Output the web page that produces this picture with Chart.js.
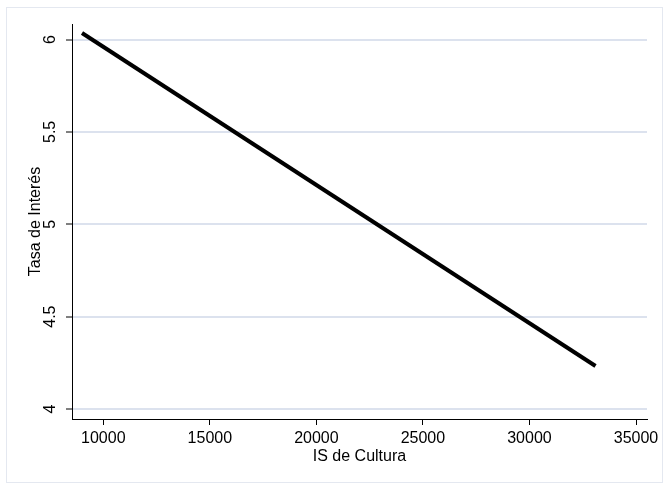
<!DOCTYPE html>
<html>
<head>
<meta charset="utf-8">
<script src="https://cdn.jsdelivr.net/npm/chart.js@4/dist/chart.umd.min.js"></script>
<style>
  html, body { margin: 0; padding: 0; background: #ffffff; }
  canvas { display: block; }
</style>
</head>
<body>
<canvas id="c" width="670" height="491"></canvas>
<script>
// Data
const isX = [9000, 33100];          // IS de Cultura (endpoints of the line)
const rateY = [6.035, 4.233];       // Tasa de Interés
const xTicks = [10000, 15000, 20000, 25000, 30000, 35000];
const yTicks = [4, 4.5, 5, 5.5, 6];
const xTitle = 'IS de Cultura';
const yTitle = 'Tasa de Interés';

const points = isX.map((x, i) => ({ x: x, y: rateY[i] }));

const FONT = { family: '"Liberation Sans", Arial, sans-serif', size: 16 };

const framePlugin = {
  id: 'frame',
  beforeDraw(chart) {
    const ctx = chart.ctx;
    ctx.save();
    ctx.fillStyle = '#ffffff';
    ctx.fillRect(0, 0, chart.width, chart.height);
    ctx.strokeStyle = '#e4e8f0';
    ctx.lineWidth = 1;
    ctx.strokeRect(6.5, 7.5, 656, 475);
    ctx.restore();
  }
};

new Chart(document.getElementById('c'), {
  type: 'line',
  data: {
    datasets: [{
      data: points,
      borderColor: '#000000',
      borderWidth: 4,
      pointRadius: 0,
      fill: false,
      tension: 0
    }]
  },
  options: {
    responsive: false,
    animation: false,
    devicePixelRatio: 1,
    layout: { padding: { left: 0, right: 23, top: 24, bottom: 0 } },
    plugins: { legend: { display: false }, tooltip: { enabled: false } },
    scales: {
      x: {
        type: 'linear',
        min: 8531,
        max: 35516,
        afterFit(s) { s.height = 72; },
        afterBuildTicks(s) { s.ticks = xTicks.map(v => ({ value: v })); },
        border: { color: '#000000', width: 1 },
        grid: { drawOnChartArea: false, drawTicks: true, tickLength: 6, tickColor: '#000000', tickWidth: 1 },
        ticks: { color: '#000000', font: FONT, padding: 4, maxRotation: 0, minRotation: 0,
                 callback: v => String(v) },
        title: { display: true, text: xTitle, color: '#000000', font: FONT, padding: { top: 0, bottom: 25 } }
      },
      y: {
        type: 'linear',
        min: 3.9459,
        max: 6.0839,
        afterFit(s) { s.width = 72; },
        afterBuildTicks(s) { s.ticks = yTicks.map(v => ({ value: v })); },
        border: { color: '#000000', width: 1 },
        grid: { color: '#dce2ee', lineWidth: 2, drawTicks: true, tickLength: 6, tickColor: '#000000', tickWidth: 1 },
        ticks: { color: '#000000', font: FONT, padding: 4, minRotation: 90, maxRotation: 90, crossAlign: 'center',
                 callback: v => String(v) },
        title: { display: true, text: yTitle, color: '#000000', font: FONT, padding: { top: 26, bottom: 0 } }
      }
    }
  },
  plugins: [framePlugin]
});
</script>
</body>
</html>
